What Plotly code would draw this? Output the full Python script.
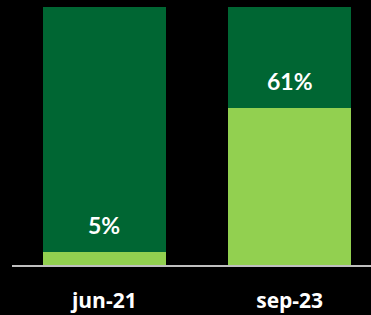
import plotly.graph_objects as go

categories = ["jun-21", "sep-23"]
light_values = [5, 61]
dark_values = [95, 39]
label_texts = ["5%", "61%"]

LIGHT = "#92D050"
DARK = "#006633"

fig = go.Figure()
fig.add_trace(go.Bar(x=categories, y=light_values, marker=dict(color=LIGHT, line=dict(width=0)),
                     width=0.665, hoverinfo="skip"))
fig.add_trace(go.Bar(x=categories, y=dark_values, marker=dict(color=DARK, line=dict(width=0)),
                     width=0.665, hoverinfo="skip"))

for c, v, t in zip(categories, light_values, label_texts):
    fig.add_annotation(x=c, y=v, text=t, showarrow=False, yshift=27,
                       font=dict(family="Lato", size=23, color="white", weight="bold"))

fig.update_layout(
    barmode="stack",
    width=371, height=315,
    margin=dict(l=12, r=0, t=7, b=50),
    paper_bgcolor="black", plot_bgcolor="black",
    showlegend=False,
    bargap=0,
    xaxis=dict(range=[-0.498, 1.439], showgrid=False, zeroline=False,
               showline=True, linecolor="#bfbfbf", linewidth=2,
               tickfont=dict(family="Open Sans", size=21, color="white", weight="bold"),
               ticks="", ticklabelstandoff=16, automargin=False),
    yaxis=dict(range=[0, 100], visible=False, showgrid=False, zeroline=False),
)

fig.write_html("out.html", config={"displayModeBar": False},
               post_script="document.body.style.margin='0px';document.body.style.background='black';document.body.style.overflow='hidden';")
